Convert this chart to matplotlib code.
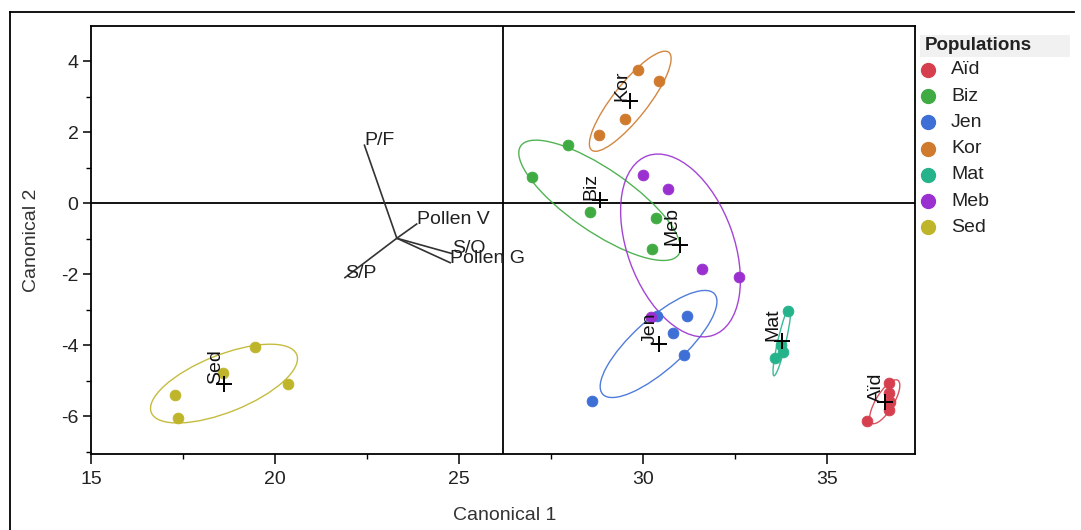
import numpy as np
import matplotlib
matplotlib.use("Agg")
import matplotlib.pyplot as plt
from matplotlib.patches import Ellipse, Rectangle
from matplotlib.lines import Line2D
from matplotlib.ticker import MultipleLocator

plt.rcParams['font.family'] = ['Liberation Sans', 'DejaVu Sans']
plt.rcParams['axes.unicode_minus'] = False

# ---------------- data ----------------
groups = ['Aïd', 'Biz', 'Jen', 'Kor', 'Mat', 'Meb', 'Sed']
colors = ['#d6404e', '#3fab42', '#3d6fd6', '#cf7a2c', '#25b38b', '#9a30d0', '#bfb52a']

aid_x = [36.69, 36.69, 36.71, 36.67, 36.08]
aid_y = [-5.08, -5.34, -5.60, -5.83, -6.14]
biz_x = [27.96, 26.98, 28.56, 30.35, 30.25]
biz_y = [1.63, 0.74, -0.25, -0.43, -1.30]
jen_x = [30.37, 31.19, 30.81, 31.12, 28.62]
jen_y = [-3.17, -3.18, -3.65, -4.27, -5.58]
kor_x = [29.86, 30.44, 29.51, 28.80]
kor_y = [3.75, 3.45, 2.36, 1.92]
mat_x = [33.95, 33.75, 33.80, 33.59]
mat_y = [-3.03, -4.00, -4.19, -4.37]
meb_x = [29.99, 30.67, 31.59, 32.62, 30.22]
meb_y = [0.80, 0.39, -1.86, -2.09, -3.21]
sed_x = [19.46, 18.60, 20.36, 17.28, 17.37]
sed_y = [-4.06, -4.80, -5.10, -5.41, -6.06]

group_x = [aid_x, biz_x, jen_x, kor_x, mat_x, meb_x, sed_x]
group_y = [aid_y, biz_y, jen_y, kor_y, mat_y, meb_y, sed_y]

ray_labels = ['P/F', 'Pollen V', 'S/O', 'Pollen G', 'S/P']
ray_x = [22.43, 23.85, 24.80, 24.76, 21.90]
ray_y = [1.63, -0.59, -1.42, -1.68, -2.10]
ray_origin_x = 23.31
ray_origin_y = -0.99

ref_x = 26.2
ref_y = 0.0

x_ticks = [15, 20, 25, 30, 35]
y_ticks = [-6, -4, -2, 0, 2, 4]

# ---------------- figure ----------------
W, H = 1081, 530
fig = plt.figure(figsize=(W / 100, H / 100), dpi=100)
fig.patch.set_facecolor('white')

def fx(px):
    return px / W

def fy(py):
    return 1 - py / H

ax = fig.add_axes([fx(91), fy(454), fx(915) - fx(91), fy(26) - fy(454)])
ax.set_xlim(15, 37.39)
ax.set_ylim(-7.07, 4.99)

for s in ax.spines.values():
    s.set_linewidth(1.3)
    s.set_color('black')

ax.set_xticks(x_ticks)
ax.set_yticks(y_ticks)
ax.xaxis.set_minor_locator(MultipleLocator(2.5))
ax.yaxis.set_minor_locator(MultipleLocator(1))
ax.tick_params(axis='x', which='major', length=7, width=1.1, labelsize=14, pad=5.5,
               labelcolor='#222222')
ax.tick_params(axis='y', which='major', length=6, width=1.1, labelsize=14, pad=3,
               labelcolor='#222222')
ax.tick_params(which='minor', length=3.5, width=1.0)

# reference lines
ax.axvline(ref_x, color='black', lw=1.3, zorder=1)
ax.axhline(ref_y, color='black', lw=1.3, zorder=1)

# biplot rays
for lab, ex, ey in zip(ray_labels, ray_x, ray_y):
    ax.plot([ray_origin_x, ex], [ray_origin_y, ey], color='#333333', lw=1.2, zorder=2)
    ax.text(ex, ey, lab, fontsize=14, ha='left', va='baseline', color='#222222', zorder=3)

ELL_SCALE = {4: 1.62, 5: 1.5}

for name, col, gx, gy in zip(groups, colors, group_x, group_y):
    gx = np.asarray(gx)
    gy = np.asarray(gy)
    mx, my = gx.mean(), gy.mean()
    cov = np.cov(gx, gy)
    vals, vecs = np.linalg.eigh(cov)
    order = vals.argsort()[::-1]
    vals, vecs = vals[order], vecs[:, order]
    k = ELL_SCALE.get(len(gx), 1.5)
    ang = np.degrees(np.arctan2(vecs[1, 0], vecs[0, 0]))
    ell = Ellipse((mx, my), 2 * k * np.sqrt(vals[0]), 2 * k * np.sqrt(max(vals[1], 1e-6)),
                  angle=ang, fill=False, edgecolor=col, lw=1.0, alpha=0.9, zorder=3)
    ax.add_patch(ell)
    ax.scatter(gx, gy, s=60, color=col, edgecolors=col, linewidths=0.6, zorder=5)
    ax.plot([mx], [my], marker='+', color='black', markersize=11, mew=1.4, zorder=6)
    ax.text(mx, my, name, rotation=90, ha='right', va='bottom', fontsize=14,
            color='#111111', zorder=6)

# axis labels
fig.text(fx(505), fy(515), 'Canonical 1', ha='center', va='center', fontsize=14, color='#333333')
fig.text(fx(32), fy(240), 'Canonical 2', ha='center', va='center', rotation=90, fontsize=14, color='#333333')

# outer frame
fig.add_artist(Line2D([fx(10), fx(10)], [fy(12), 0], transform=fig.transFigure, color='black', lw=1.3))
fig.add_artist(Line2D([fx(10), fx(1074)], [fy(12), fy(12)], transform=fig.transFigure, color='black', lw=1.3))

# legend
fig.add_artist(Rectangle((fx(920), fy(57)), fx(1070) - fx(920), fy(35) - fy(57),
                         transform=fig.transFigure, facecolor='#f1f1f1', edgecolor='none'))
fig.text(fx(925), fy(46), 'Populations', ha='left', va='center', fontsize=13.5,
         fontweight='bold', color='#222222')
row0, dy = 70, 26.2
for i, (name, col) in enumerate(zip(groups, colors)):
    yy = row0 + i * dy
    fig.add_artist(Line2D([fx(928)], [fy(yy)], transform=fig.transFigure, marker='o',
                          markersize=10, color=col, markeredgecolor=col, linestyle='none'))
    fig.text(fx(951), fy(yy), name, ha='left', va='center', fontsize=14, color='#222222')

fig.savefig('out.png', dpi=100, facecolor='white')
